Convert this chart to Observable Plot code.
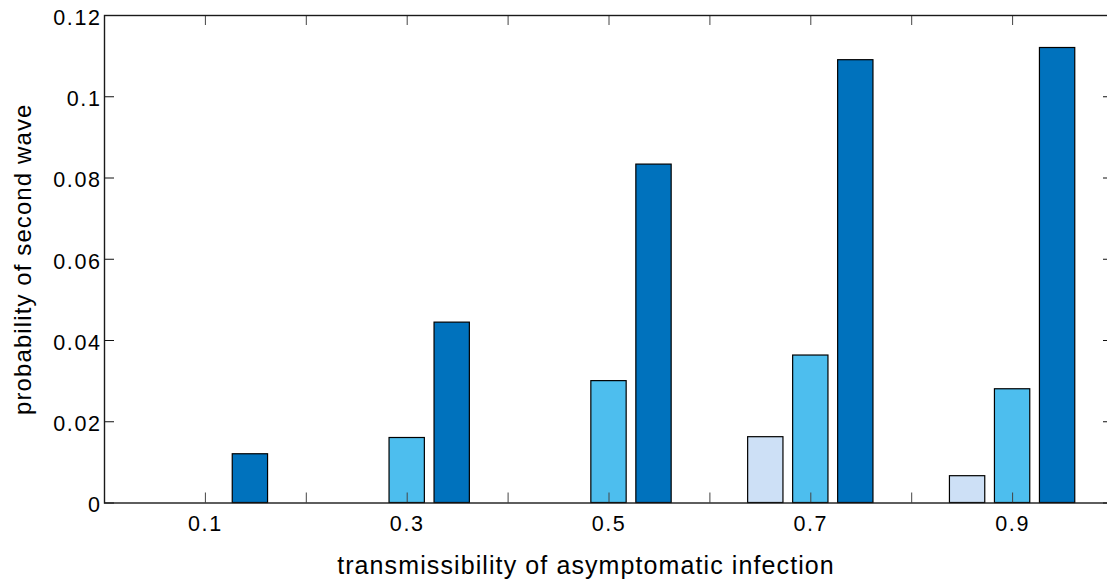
<!DOCTYPE html>
<html>
<head>
<meta charset="utf-8">
<script src="https://cdn.jsdelivr.net/npm/d3@7"></script>
<script src="https://cdn.jsdelivr.net/npm/@observablehq/plot@0.6"></script>
<style>
  html, body { margin: 0; padding: 0; background: #fff; overflow: hidden; }
  #chart svg { overflow: hidden; display: block; }
  #chart g[aria-label="x-axis tick label"] text,
  #chart g[aria-label="y-axis tick label"] text { letter-spacing: 1.6px; }
  #chart g[aria-label="text"] text { letter-spacing: 1.1px; }
</style>
</head>
<body>
<div id="chart"></div>
<script>
// Transmissibility levels (group positions on the x axis)
const transmissibility = [0.1, 0.3, 0.5, 0.7, 0.9];

// Probability of a second wave for each of the three scenarios
const scenarioLow = [0, 0, 0, 0.0162, 0.0066];
const scenarioMid = [0, 0.016, 0.030, 0.0363, 0.028];
const scenarioHigh = [0.012, 0.0444, 0.0833, 0.109, 0.112];

const scenarioNames = ["low", "mid", "high"];
const scenarioColors = ["#cde0f6", "#4dbeee", "#0072bd"];

// Axis ticks
const xTickMarks = [0.1, 0.2, 0.3, 0.4, 0.5, 0.6, 0.7, 0.8, 0.9];
const xTickLabels = [0.1, 0.3, 0.5, 0.7, 0.9];
const yTicks = [0, 0.02, 0.04, 0.06, 0.08, 0.1, 0.12];

const xTitle = "transmissibility of asymptomatic infection";
const yTitle = "probability of second wave";

// Grouped bar layout (in x-data units)
const barStep = 0.0446;
const barWidth = 0.035;

const rows = [];
[scenarioLow, scenarioMid, scenarioHigh].forEach((values, s) => {
  values.forEach((v, i) => {
    rows.push({t: transmissibility[i], s, scenario: scenarioNames[s], value: v});
  });
});

const width = 1107, height = 588;
const marginLeft = 104, marginRight = -6, marginTop = 15, marginBottom = 85.5;
const frameW = width - marginLeft - marginRight;
const frameH = height - marginTop - marginBottom;
const tickLen = 10;
const font = "'Liberation Sans', Arial, Helvetica, sans-serif";

const chart = Plot.plot({
  width, height, marginLeft, marginRight, marginTop, marginBottom,
  style: {fontFamily: font, color: "#000", background: "#fff"},
  x: {domain: [0, 1]},
  y: {domain: [0, 0.12]},
  color: {domain: scenarioNames, range: scenarioColors},
  marks: [
    Plot.rect(rows, {
      x1: d => d.t + (d.s - 1) * barStep - barWidth / 2,
      x2: d => d.t + (d.s - 1) * barStep + barWidth / 2,
      y1: 0,
      y2: "value",
      fill: "scenario",
      stroke: "#000",
      strokeWidth: 1.2
    }),
    // inward ticks on all four sides
    Plot.ruleY(yTicks, {y: d => d, insetRight: frameW - tickLen, stroke: "#111", strokeWidth: 1}),
    Plot.ruleY(yTicks, {y: d => d, insetLeft: frameW - tickLen, stroke: "#111", strokeWidth: 1}),
    Plot.ruleX(xTickMarks, {x: d => d, insetTop: frameH - tickLen, stroke: "#444", strokeWidth: 1}),
    Plot.ruleX(xTickMarks, {x: d => d, insetBottom: frameH - tickLen, stroke: "#444", strokeWidth: 1}),
    Plot.frame({stroke: "#1a1a1a", strokeWidth: 1.4}),
    Plot.axisY({
      ticks: yTicks, tickSize: 0, tickPadding: 3, dy: 2.5,
      tickFormat: d3.format("~g"), fontSize: 21.5, label: null
    }),
    Plot.axisX({
      ticks: xTickLabels, tickSize: 0, tickPadding: 13,
      tickFormat: d3.format(".1f"), fontSize: 21.5, label: null
    }),
    Plot.text([xTitle], {
      frameAnchor: "bottom", text: d => d, lineAnchor: "middle", textAnchor: "middle",
      dy: 62.5, dx: -23, fontSize: 25, fill: "#000"
    }),
    Plot.text([yTitle], {
      frameAnchor: "left", text: d => d, lineAnchor: "middle", textAnchor: "middle",
      rotate: -90, dx: -80.7, dy: 0, fontSize: 24, fill: "#000"
    })
  ]
});

document.getElementById("chart").appendChild(chart);
</script>
</body>
</html>
